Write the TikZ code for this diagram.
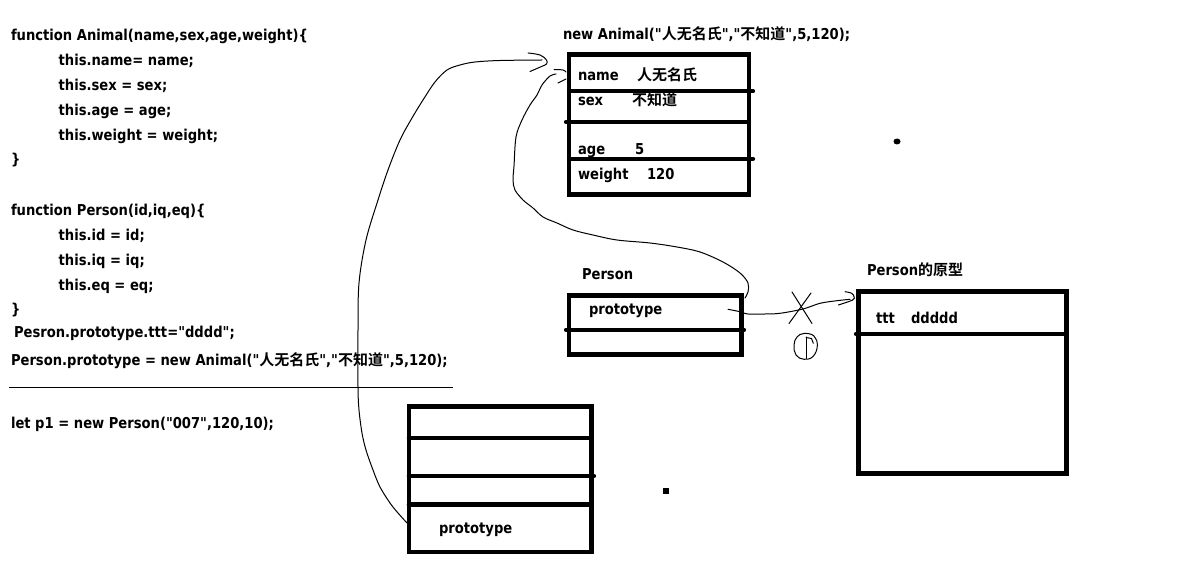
\documentclass[tikz,border=0pt]{standalone}
\usepackage{fontspec}
\newfontfamily\latfont{DejaVu Sans}[FakeStretch=0.875]
\newfontfamily\cjkfont{Noto Sans CJK SC}[BoldFont={Noto Sans CJK SC Bold}]
\newcommand\zhs[1]{{\cjkfont\bfseries #1}}
\begin{document}
\begin{tikzpicture}[x=1pt,y=-1pt,
  txt/.style={anchor=base west, inner sep=0pt, outer sep=0pt,
    font=\fontsize{15}{18}\selectfont\latfont\bfseries},
  box/.style={draw, line width=4.6pt, inner sep=0pt, outer sep=0pt},
  divider/.style={line width=4.2pt, line cap=round},
  ink/.style={line width=1pt, line cap=round, line join=round},
]
\useasboundingbox[fill=white] (0,0) rectangle (1184,569);

% ---- source code on the left ----
\node[txt] (l1)  at (11,41)    {function Animal(name,sex,age,weight)\{};
\node[txt] (l2)  at (58.7,66)  {this.name= name;};
\node[txt] (l3)  at (58.7,91)  {this.sex = sex;};
\node[txt] (l4)  at (58.7,116) {this.age = age;};
\node[txt] (l5)  at (58.7,141) {this.weight = weight;};
\node[txt] (l6)  at (11,165)   {\}};
\node[txt] (l7)  at (11,215.5) {function Person(id,iq,eq)\{};
\node[txt] (l8)  at (58.7,240.7) {this.id = id;};
\node[txt] (l9)  at (58.7,265.7) {this.iq = iq;};
\node[txt] (l10) at (58.7,290.7) {this.eq = eq;};
\node[txt] (l11) at (11,315)   {\}};
\node[txt] (l12) at (14,338)   {Pesron.prototype.ttt="dddd";};
\node[txt] (l13) at (11,365.7) {Person.prototype = new Animal("\zhs{人无名氏}","\zhs{不知道}",5,120);};
\coordinate (ruleL) at (9,387.3);
\coordinate (ruleR) at (453,387.3);
\draw[line width=1.2pt] (ruleL) -- (ruleR);
\node[txt] (l14) at (11,428.3) {let p1 = new Person("007",120,10);};

% ---- the Animal instance ----
\node[txt] (animaltitle) at (563,40) {new Animal("\zhs{人无名氏}","\zhs{不知道}",5,120);};
\node[box, minimum width=180pt, minimum height=140pt] (animal) at (659,124.5) {};
\draw[divider] (569,91.3) -- (753,91.3);
\draw[divider] (566,122) -- (749,122);
\draw[divider] (569,158.7) -- (753,158.7);
\node[txt] (kname)   at (578,81)  {name};
\node[txt] (vname)   at (637,81)  {\zhs{人无名氏}};
\node[txt] (ksex)    at (578,106) {sex};
\node[txt] (vsex)    at (632,106) {\zhs{不知道}};
\node[txt] (kage)    at (578,155) {age};
\node[txt] (vage)    at (635,155) {5};
\node[txt] (kweight) at (578,180) {weight};
\node[txt] (vweight) at (647,180) {120};

% ---- the Person constructor ----
\node[txt] (persontitle) at (582,280) {Person};
\node[box, minimum width=172.3pt, minimum height=59pt] (person) at (655.2,325) {};
\draw[divider] (566,329.7) -- (744,329.7);
\node[txt] (personproto) at (589,315) {prototype};

% ---- the original prototype of Person ----
\node[txt] (prototitle) at (867,276) {Person\zhs{的原型}};
\node[box, minimum width=207.8pt, minimum height=181.8pt] (proto) at (962.4,382.6) {};
\draw[divider] (856,334) -- (1066.3,334);
\node[txt] (kttt) at (876,324) {ttt};
\node[txt] (vttt) at (911,324) {ddddd};

% ---- the instance p1 ----
\node[box, minimum width=182.9pt, minimum height=145.1pt] (pone) at (500.25,479.25) {};
\draw[divider] (408.8,438.3) -- (591.7,438.3);
\draw[divider] (408.8,476) -- (594,476);
\draw[divider] (408.8,504.5) -- (591.7,504.5);
\node[txt] (poneproto) at (439,533) {prototype};

% ---- stray marks ----
\fill (663,488) rectangle (669,494);
\fill (897,141.5) ellipse (3.5pt and 3pt);

% ---- hand-drawn links ----
% p1.prototype -> Animal instance
\coordinate (aS) at (407,523);
\coordinate (aE) at (542,60);
\draw[ink] plot[smooth, tension=0.55] coordinates {
  (aS) (398,513) (390,503) (380,487) (373,470) (366,450) (362,433) (359,410)
  (358,387) (358,330) (359,283) (366,240) (378,200) (388,170) (400,140)
  (412,118) (423,100) (435,82) (447,70) (460,65) (475,62) (500,60.5) (aE)};
\draw[ink] plot[smooth, tension=0.6] coordinates {
  (528,53) (540,55) (546.5,60) (546.5,64) (541.5,66.5) (530,71.5)};

% Person.prototype -> Animal instance
\coordinate (bS) at (745,298);
\coordinate (bE) at (556,74);
\draw[ink] plot[smooth, tension=0.55] coordinates {
  (bS) (748,292) (748,283) (740,273) (723,262) (700,252) (677,247) (650,243)
  (617,240) (593,235) (573,230) (557,223) (543,217) (533,208) (523,200)
  (515,190) (513,180) (514,166) (516,137) (522,120) (530,105) (537,95)
  (542,85) (550,76) (bE)};
\draw[ink] plot[smooth, tension=0.6] coordinates {(554,69.5) (563,70) (566,72)};
\draw[ink] plot[smooth, tension=0.6] coordinates {(558,83) (563,80.5) (566,79)};

% Person.prototype -> original prototype (crossed out)
\coordinate (cS) at (728,309.3);
\coordinate (cE) at (850,299.3);
\draw[ink] plot[smooth, tension=0.55] coordinates {
  (cS) (740,311.7) (748,314) (765,314) (780,313.3) (803,309) (820,303.3)
  (837,300.7) (cE)};
\draw[ink] plot[smooth, tension=0.6] coordinates {
  (845,291.7) (851.7,293.3) (854,296.7) (852.7,300) (838.3,305)};
\draw[ink] (792,292) -- (812,323.5);
\draw[ink] (811,293) -- (789,323.5);

% circled 1
\draw[ink] plot[smooth cycle, tension=0.7] coordinates {
  (804,333.5) (814,336) (817.3,346) (813,356.5) (804,359.3) (796,355)
  (794,345) (797,337)};
\draw[ink] (806,337) -- (806,358.3);
\draw[ink] (806,337.5) -- (811.5,338.5) -- (813.3,343.3);
\end{tikzpicture}
\end{document}
